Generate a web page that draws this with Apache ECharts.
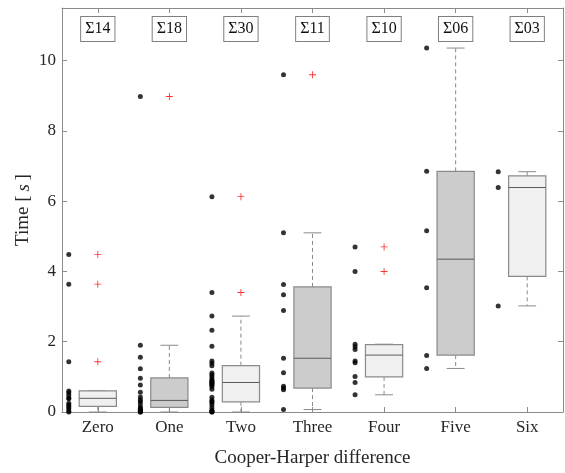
<!DOCTYPE html>
<html>
<head>
<meta charset="utf-8">
<script src="https://cdn.jsdelivr.net/npm/echarts@6/dist/echarts.min.js"></script>
<style>html,body{margin:0;padding:0;background:#fff}#c{width:565px;height:473px}</style>
</head>
<body>
<div id="c"></div>
<script>
const categories = ['Zero', 'One', 'Two', 'Three', 'Four', 'Five', 'Six'];
const sumLabels = ['Σ14', 'Σ18', 'Σ30', 'Σ11', 'Σ10', 'Σ06', 'Σ03'];
const yTicks = [0, 2, 4, 6, 8, 10];

const zeroTimes = [4.48, 3.64, 1.43, 0.60, 0.55, 0.48, 0.40, 0.38, 0.25, 0.20, 0.15, 0.10, 0.03, 0.0];
const oneTimes = [8.98, 1.90, 1.56, 1.23, 0.96, 0.77, 0.56, 0.43, 0.35, 0.30, 0.23, 0.14, 0.10, 0.07, 0.04, 0.02, 0.0, 0.0];
const twoTimes = [6.13, 3.40, 2.73, 2.33, 1.87, 1.45, 1.39, 1.32, 1.11, 1.06, 1.00, 0.94, 0.90, 0.87, 0.85, 0.82, 0.80, 0.76, 0.72, 0.65, 0.42, 0.34, 0.30, 0.26, 0.20, 0.12, 0.05, 0.02, 0.0, 0.0];
const threeTimes = [9.60, 5.10, 3.63, 3.34, 2.89, 1.53, 1.12, 0.73, 0.68, 0.63, 0.07];
const fourTimes = [4.70, 4.00, 1.93, 1.86, 1.78, 1.45, 1.40, 1.01, 0.84, 0.49];
const fiveTimes = [10.36, 6.85, 5.16, 3.54, 1.61, 1.24];
const sixTimes = [6.84, 6.39, 3.02];

// box statistics: [lower whisker, Q1, median, Q3, upper whisker]
const zeroBox = [0.0, 0.16, 0.39, 0.60, 0.60];
const oneBox = [0.0, 0.13, 0.33, 0.97, 1.90];
const twoBox = [0.0, 0.29, 0.84, 1.32, 2.73];
const threeBox = [0.07, 0.68, 1.53, 3.56, 5.10];
const fourBox = [0.49, 1.00, 1.62, 1.92, 1.93];
const fiveBox = [1.24, 1.62, 4.35, 6.85, 10.36];
const sixBox = [3.02, 3.86, 6.39, 6.72, 6.84];

// outliers (red crosses)
const zeroOut = [4.48, 3.64, 1.43];
const oneOut = [8.98];
const twoOut = [6.13, 3.40];
const threeOut = [9.60];
const fourOut = [4.70, 4.00];
const fiveOut = [];
const sixOut = [];

const allTimes = [zeroTimes, oneTimes, twoTimes, threeTimes, fourTimes, fiveTimes, sixTimes];
const allBoxes = [zeroBox, oneBox, twoBox, threeBox, fourBox, fiveBox, sixBox];
const allOut = [zeroOut, oneOut, twoOut, threeOut, fourOut, fiveOut, sixOut];

const FONT = 'Liberation Serif';
const TXT = '#262626';
const AX = '#8c8c8c';

const dotData = [];
allTimes.forEach((arr, i) => arr.forEach(v => dotData.push([i, v])));
const outData = [];
allOut.forEach((arr, i) => arr.forEach(v => outData.push([i, v])));
const boxData = allBoxes.map((b, i) => [i].concat(b));

const chart = echarts.init(document.getElementById('c'), null, {renderer: 'canvas'});

function renderBox(params, api) {
  const i = api.value(0);
  const lo = api.coord([i, api.value(1)]);
  const q1 = api.coord([i, api.value(2)]);
  const md = api.coord([i, api.value(3)]);
  const q3 = api.coord([i, api.value(4)]);
  const hi = api.coord([i, api.value(5)]);
  const band = api.size([1, 0])[0];
  const hw = band * 0.26;
  const cw = band * 0.125;
  const cx = lo[0];
  const fill = (i % 2 === 0) ? '#f0f0f0' : '#cccccc';
  const dashStyle = {stroke: '#8a8a8a', lineWidth: 1, lineDash: [4, 3]};
  const solid = {stroke: '#8a8a8a', lineWidth: 1};
  return {
    type: 'group',
    children: [
      {type: 'line', shape: {x1: cx, y1: q3[1], x2: cx, y2: hi[1]}, style: dashStyle},
      {type: 'line', shape: {x1: cx, y1: q1[1], x2: cx, y2: lo[1]}, style: dashStyle},
      {type: 'line', shape: {x1: cx - cw, y1: hi[1], x2: cx + cw, y2: hi[1]}, style: solid},
      {type: 'line', shape: {x1: cx - cw, y1: lo[1], x2: cx + cw, y2: lo[1]}, style: solid},
      {type: 'rect', shape: {x: cx - hw, y: q3[1], width: 2 * hw, height: q1[1] - q3[1]},
        style: {fill: fill, stroke: '#8a8a8a', lineWidth: 1.2}},
      {type: 'line', shape: {x1: cx - hw, y1: md[1], x2: cx + hw, y2: md[1]},
        style: {stroke: '#5a5a5a', lineWidth: 1}}
    ]
  };
}

const option = {
  backgroundColor: '#fff',
  animation: false,
  grid: {left: 62, top: 8, width: 501, height: 406, show: false},
  xAxis: [
    {
      type: 'category', position: 'bottom', data: categories, boundaryGap: true,
      axisLine: {show: true, onZero: false, lineStyle: {color: AX, width: 1}},
      axisTick: {show: true, inside: true, alignWithLabel: true, length: 5, lineStyle: {color: AX}},
      axisLabel: {fontFamily: FONT, fontSize: 17, color: TXT, margin: 7},
      splitLine: {show: false},
      name: 'Cooper-Harper difference', nameLocation: 'middle', nameGap: 37,
      nameMoveOverlap: false,
      nameTextStyle: {fontFamily: FONT, fontSize: 19, color: TXT}
    },
    {
      type: 'category', position: 'top', data: categories, boundaryGap: true,
      axisLine: {show: true, onZero: false, lineStyle: {color: AX, width: 1}},
      axisTick: {show: true, inside: true, alignWithLabel: true, length: 5, lineStyle: {color: AX}},
      axisLabel: {
        inside: true, margin: 9, fontFamily: FONT, fontSize: 16, color: '#111',
        formatter: (v, idx) => sumLabels[idx],
        borderColor: '#7f7f7f', borderWidth: 1, backgroundColor: '#fff',
        padding: [4, 4, 4, 4]
      },
      splitLine: {show: false}
    }
  ],
  yAxis: [
    {
      type: 'value', position: 'left', min: 0, max: 11.5, interval: 2,
      axisLine: {show: true, onZero: false, lineStyle: {color: AX, width: 1}},
      axisTick: {show: true, inside: true, length: 5, lineStyle: {color: AX}},
      axisLabel: {
        fontFamily: FONT, fontSize: 17, color: TXT, margin: 6, showMaxLabel: false,
        formatter: v => (yTicks.indexOf(v) >= 0 ? String(v) : '')
      },
      splitLine: {show: false},
      name: '{n|Time [\u2009}{i|s}{n|\u2009]}', nameLocation: 'middle', nameGap: 29,
      nameMoveOverlap: false,
      nameTextStyle: {
        fontFamily: FONT, fontSize: 19, color: TXT,
        rich: {
          n: {fontFamily: FONT, fontSize: 19, color: TXT},
          i: {fontFamily: FONT, fontSize: 19, color: TXT, fontStyle: 'italic'}
        }
      }
    },
    {
      type: 'value', position: 'right', min: 0, max: 11.5, interval: 2,
      axisLine: {show: true, onZero: false, lineStyle: {color: AX, width: 1}},
      axisTick: {show: true, inside: true, length: 5, lineStyle: {color: AX}},
      axisLabel: {show: false},
      splitLine: {show: false}
    }
  ],
  series: [
    {
      type: 'custom', xAxisIndex: 0, yAxisIndex: 0,
      renderItem: renderBox, data: boxData, z: 2,
      encode: {x: 0, y: [1, 2, 3, 4, 5]}
    },
    {
      type: 'scatter', xAxisIndex: 0, yAxisIndex: 0, data: dotData,
      symbol: 'circle', symbolSize: 5, symbolOffset: [-29, 0],
      itemStyle: {color: '#000'}, z: 3
    },
    {
      type: 'scatter', xAxisIndex: 0, yAxisIndex: 0, data: outData,
      symbol: 'path://M3.5,0h1v8h-1zM0,3.5h8v1h-8z', symbolSize: 7,
      itemStyle: {color: '#ff0000'}, z: 3
    }
  ]
};
chart.setOption(option);
</script>
</body>
</html>
